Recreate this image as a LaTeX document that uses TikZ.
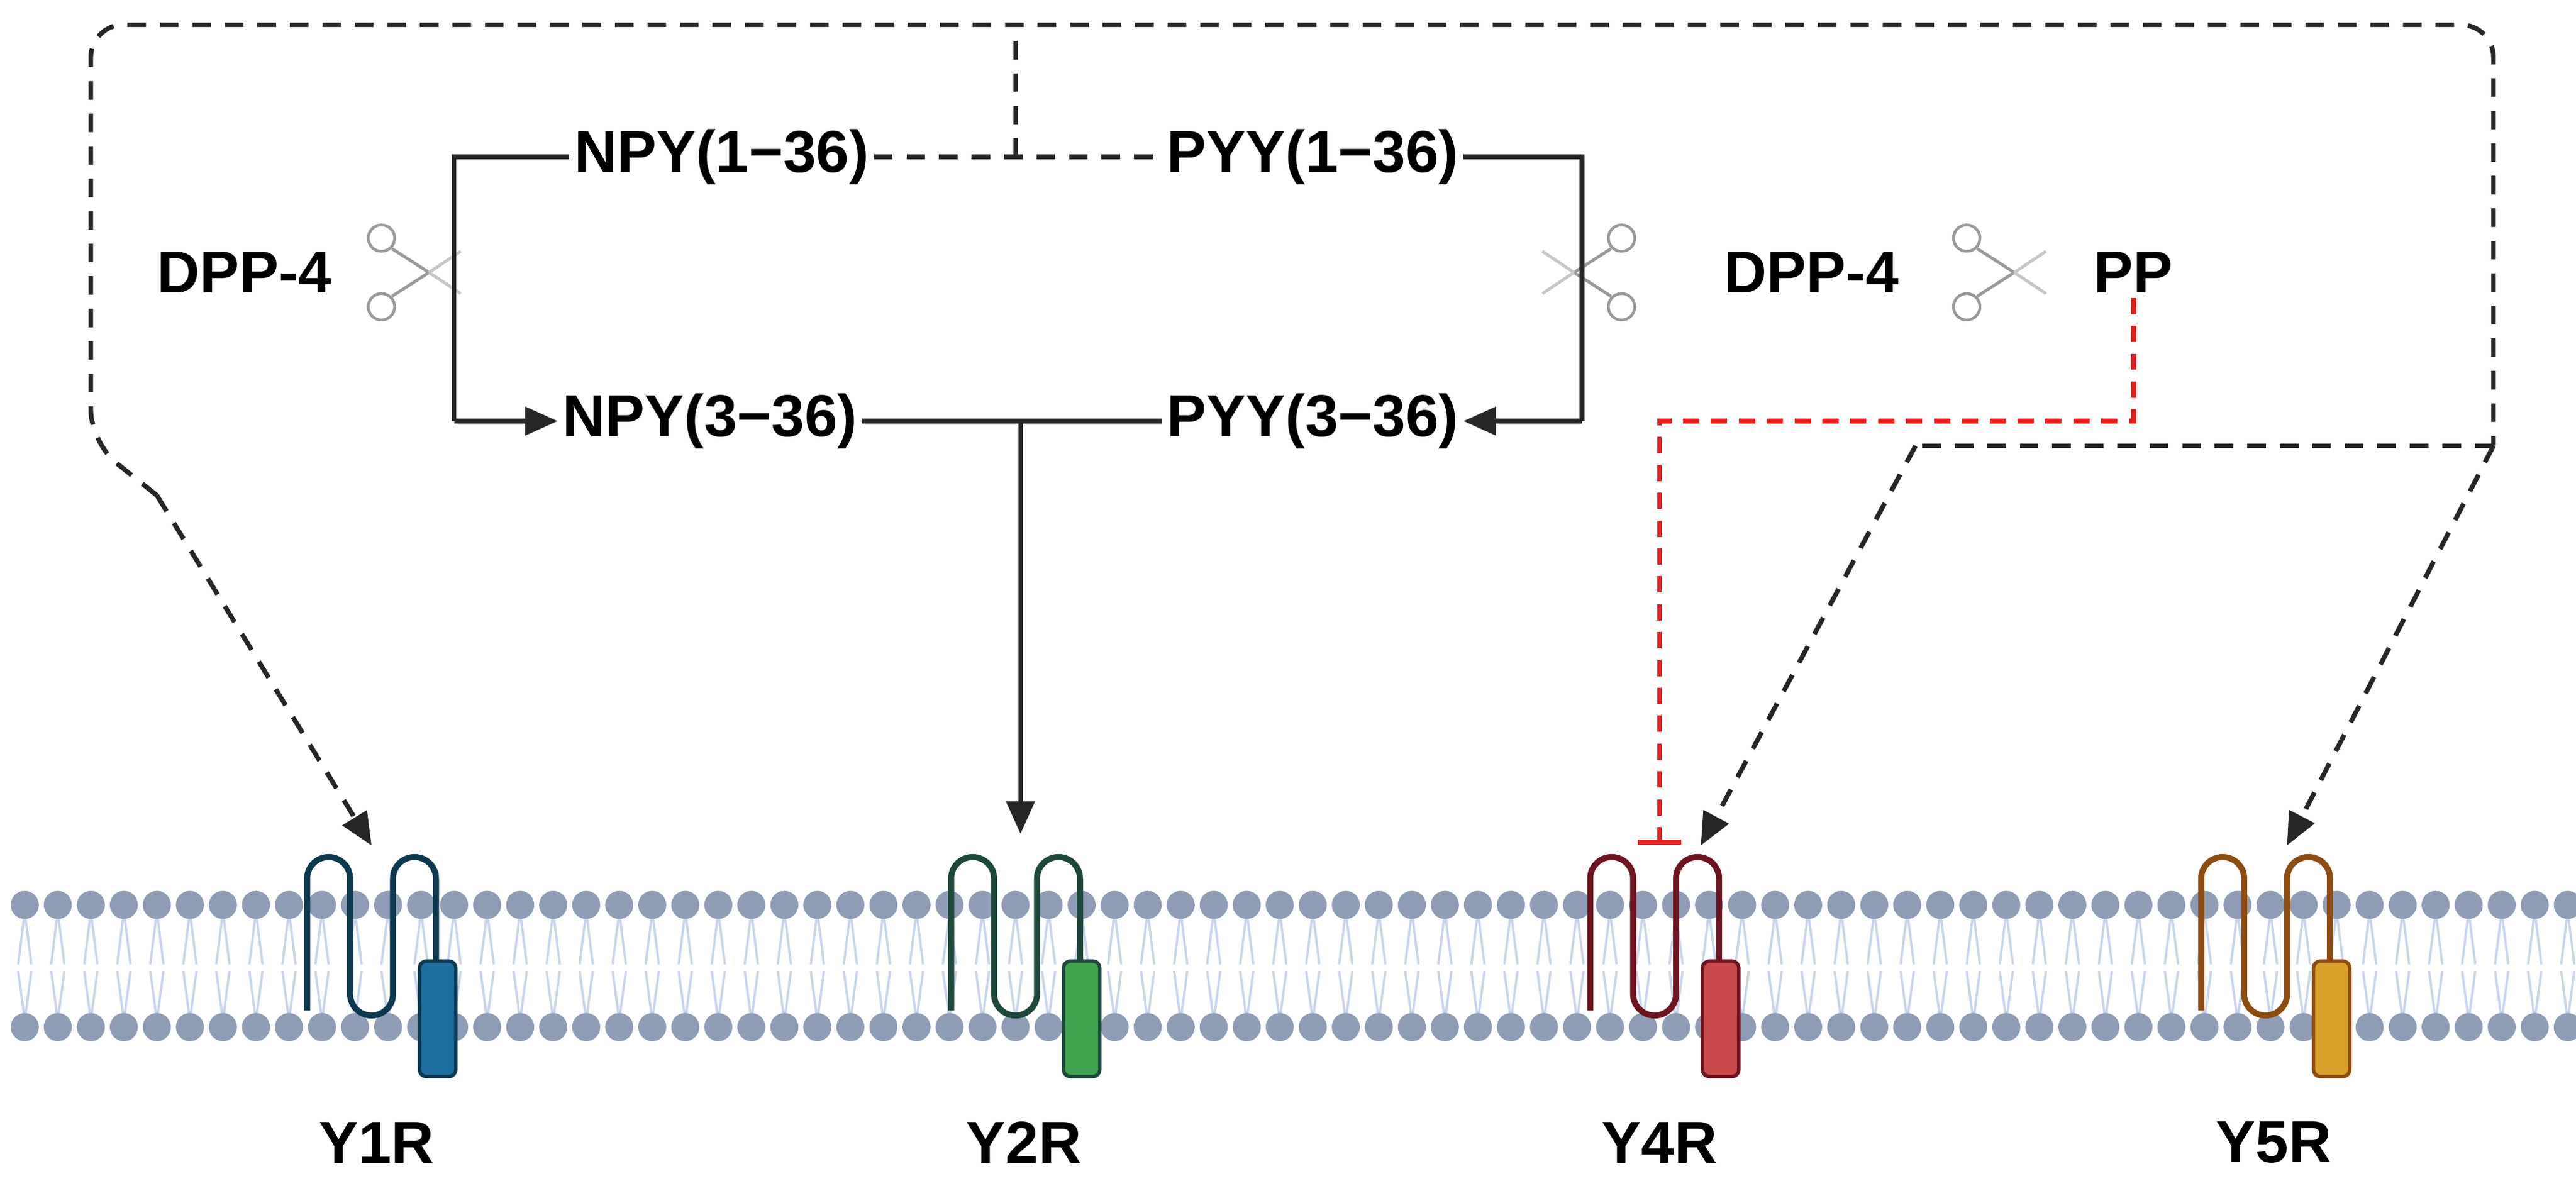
\documentclass[tikz,border=0pt]{standalone}
\usepackage{fontspec}
\setmainfont{Liberation Sans}
\usetikzlibrary{positioning,calc,arrows.meta}
\definecolor{headgray}{RGB}{142,157,181}
\definecolor{tailblue}{RGB}{200,214,236}
\definecolor{yonel}{RGB}{12,56,80}
\definecolor{yonef}{RGB}{28,110,158}
\definecolor{ytwol}{RGB}{30,72,60}
\definecolor{ytwof}{RGB}{64,163,77}
\definecolor{yfourl}{RGB}{110,20,32}
\definecolor{yfourf}{RGB}{201,74,74}
\definecolor{yfivel}{RGB}{140,76,18}
\definecolor{yfivef}{RGB}{217,160,42}
\definecolor{inhibred}{RGB}{230,30,30}
% receptor: #1 left strand x, #2 line colour, #3 barrel colour
\newcommand{\receptor}[3]{%
  \draw[#2, line width=2.6pt, line join=round]
    (#1,612) -- (#1,532) arc[start angle=180,end angle=360,radius=13]
    -- ++(0,70) arc[start angle=180,end angle=0,radius=13]
    -- ++(0,-70) arc[start angle=180,end angle=360,radius=13] -- ++(0,52);
  \draw[#2, fill=#3, line width=1.5pt, rounded corners=3]
    ($(#1,582)+(68,0)$) rectangle ($(#1,652)+(90,0)$);
}
% scissors: #1 centre, #2 direction (1 or -1)
\newcommand{\scissors}[2]{%
  \begin{scope}[shift={#1}, xscale=#2, scale=1.6]
    \draw[gray!80, line width=1.2pt] (-15,-13) circle[radius=5] (-15,13) circle[radius=5];
    \draw[gray!80, line width=1.3pt] (-11,-9) -- (3,0) (-11,9) -- (3,0);
    \draw[gray!45, line width=1.3pt] (3,0) -- (15,-8) (3,0) -- (15,8);
  \end{scope}
}
\begin{document}
\begin{tikzpicture}[x=0.025cm, y=-0.025cm,
    lbl/.style={font=\fontsize{25.5}{30}\selectfont\bfseries, inner sep=2pt},
    link/.style={line width=2pt, draw=black!85},
    dlink/.style={link, dash pattern=on 8pt off 6pt},
    tip/.style={-{Triangle[length=14pt,width=12pt]}},
    inhib/.style={line width=2pt, draw=inhibred, dash pattern=on 7pt off 5pt}
]
\useasboundingbox (0,0) rectangle (1560,715);

% membrane
\foreach \x in {15,35,...,1555} {
  \draw[tailblue, line width=1pt] (\x,552) -- (\x-4,584) (\x,552) -- (\x+4,584)
                                  (\x,618) -- (\x-4,588) (\x,618) -- (\x+4,588);
}
\foreach \x in {15,35,...,1555} {
  \fill[headgray] (\x,548) circle[radius=8.5] (\x,622) circle[radius=8.5];
}

% receptors
\receptor{186}{yonel}{yonef}
\receptor{576}{ytwol}{ytwof}
\receptor{963}{yfourl}{yfourf}
\receptor{1333}{yfivel}{yfivef}
\coordinate (y1top) at (225,512);
\coordinate (y2top) at (618,505);
\coordinate (y4top) at (1030,512);
\coordinate (y5top) at (1385,512);
\node[lbl] (y1r) at (228,692) {Y1R};
\node[lbl] (y2r) at (620,692) {Y2R};
\node[lbl] (y4r) at (1005,692) {Y4R};
\node[lbl] (y5r) at (1377,692) {Y5R};

% peptides
\node[lbl] (npy1) at (437,95) {NPY(1−36)};
\node[lbl] (pyy1) at (795,95) {PYY(1−36)};
\node[lbl] (npy3) at (430,255) {NPY(3−36)};
\node[lbl] (pyy3) at (795,255) {PYY(3−36)};
\node[lbl] (dppl) at (148,165) {DPP-4};
\node[lbl] (dppr) at (1097,165) {DPP-4};
\node[lbl] (pp) at (1292,165) {PP};
\scissors{(255,165)}{1}
\scissors{(958,165)}{-1}
\scissors{(1215,165)}{1}

% cleavage
\draw[link] (npy1.west) -- (275,95) -- (275,255);
\draw[link, tip] (275,255) -- (npy3.west);
\draw[link] (pyy1.east) -- (958,95) -- (958,255);
\draw[link, tip] (958,255) -- (pyy3.east);
\draw[link] (npy3.east) -- (pyy3.west);
\draw[link, tip] (618,255) -- (y2top);

% dashed connections
\coordinate (mid) at (615,95);
\draw[dlink] (npy1.east) -- (pyy1.west);
\draw[dlink] (mid) -- (615,15);
\draw[dlink, rounded corners=14] (95,300) -- (55,268) -- (55,15) -- (1510,15) -- (1510,270);
\draw[dlink, tip] (95,300) -- (y1top);
\draw[dlink, tip] (1510,270) -- (y5top);
\draw[dlink] (1510,270) -- (1160,270);
\draw[dlink, tip] (1160,270) -- (y4top);

% PP inhibition
\draw[inhib] (pp.south) -- (pp.south |- 0,255) -- (1005,255) -- (1005,510);
\draw[inhibred, line width=2pt] (992,510) -- (1018,510);
\end{tikzpicture}
\end{document}
